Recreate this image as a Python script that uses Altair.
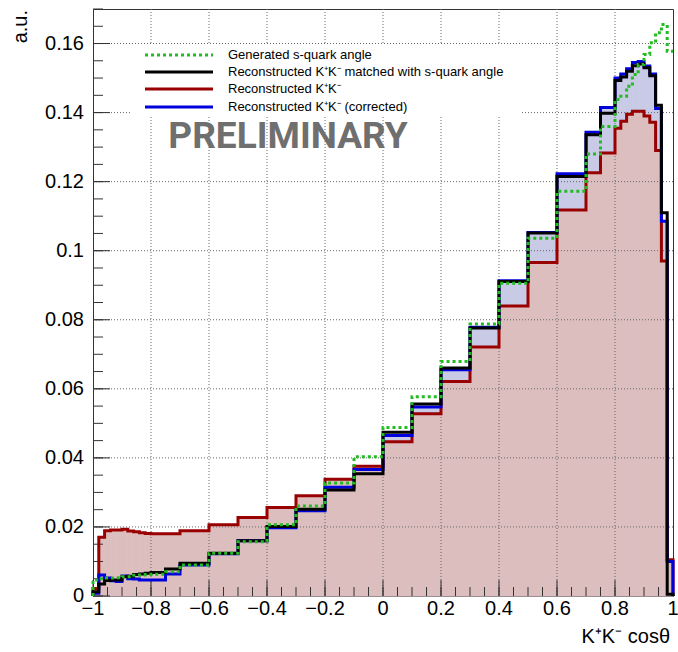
import altair as alt
import pandas as pd

# ---------------- data ----------------
edges = [-1.00, -0.98, -0.96, -0.94, -0.92, -0.90, -0.88, -0.86, -0.84, -0.82, -0.80,
         -0.75, -0.70, -0.60, -0.50, -0.40, -0.30, -0.20, -0.10, 0.00, 0.10, 0.20, 0.30,
         0.40, 0.50, 0.60, 0.70, 0.75, 0.80, 0.82, 0.84, 0.86, 0.88, 0.90, 0.92, 0.94,
         0.96, 0.98, 1.00]

generated = [0.0046, 0.0050, 0.0052, 0.0052, 0.0053, 0.0056, 0.0056, 0.0060, 0.0061, 0.0062,
             0.0063, 0.0070, 0.0090, 0.0124, 0.0157, 0.0206, 0.0261, 0.0327, 0.0403, 0.0488,
             0.0577, 0.0679, 0.0788, 0.0906, 0.1036, 0.1172, 0.1280, 0.1360, 0.1438, 0.1447,
             0.1476, 0.1510, 0.1539, 0.1568, 0.1602, 0.1631, 0.1655, 0.1578]

matched = [0.0012, 0.0035, 0.0045, 0.0046, 0.0046, 0.0056, 0.0057, 0.0062, 0.0064, 0.0066,
           0.0068, 0.0078, 0.0095, 0.0124, 0.0160, 0.0201, 0.0251, 0.0307, 0.0354, 0.0474,
           0.0556, 0.0660, 0.0776, 0.0911, 0.1051, 0.1215, 0.1336, 0.1398, 0.1493, 0.1503,
           0.1520, 0.1536, 0.1541, 0.1530, 0.1507, 0.1421, 0.1110, 0.0005]

reco = [0.0022, 0.0170, 0.0189, 0.0191, 0.0191, 0.0193, 0.0188, 0.0186, 0.0183, 0.0181,
        0.0180, 0.0180, 0.0189, 0.0206, 0.0227, 0.0256, 0.0290, 0.0338, 0.0376, 0.0447,
        0.0528, 0.0621, 0.0721, 0.0840, 0.0966, 0.1118, 0.1226, 0.1283, 0.1355, 0.1375,
        0.1395, 0.1404, 0.1404, 0.1390, 0.1372, 0.1290, 0.0970, 0.0105]

corrected = [0.0008, 0.0061, 0.0052, 0.0044, 0.0042, 0.0058, 0.0050, 0.0049, 0.0046, 0.0046,
             0.0046, 0.0064, 0.0090, 0.0122, 0.0160, 0.0198, 0.0247, 0.0315, 0.0366, 0.0465,
             0.0547, 0.0655, 0.0778, 0.0913, 0.1053, 0.1223, 0.1343, 0.1415, 0.1500, 0.1512,
             0.1527, 0.1545, 0.1548, 0.1535, 0.1512, 0.1412, 0.1085, 0.0100]

x_major = [-1.0, -0.8, -0.6, -0.4, -0.2, 0.0, 0.2, 0.4, 0.6, 0.8, 1.0]
x_labels = ["\u22121", "\u22120.8", "\u22120.6", "\u22120.4", "\u22120.2", "0",
            "0.2", "0.4", "0.6", "0.8", "1"]
y_major = [0.0, 0.02, 0.04, 0.06, 0.08, 0.10, 0.12, 0.14, 0.16]
y_labels = ["0", "0.02", "0.04", "0.06", "0.08", "0.1", "0.12", "0.14", "0.16"]
x_minor = [round(-1 + 0.05 * i, 2) for i in range(41)]
y_minor = [round(0.005 * i, 3) for i in range(35)]

legend_labels = ["Generated s-quark angle",
                 "Reconstructed K\u207aK\u207b matched with s-quark angle",
                 "Reconstructed K\u207aK\u207b",
                 "Reconstructed K\u207aK\u207b (corrected)"]
legend_colors = ["#22bb22", "#000000", "#990000", "#0000dd"]
legend_dash = [[3, 3], [1, 0], [1, 0], [1, 0]]

# ---------------- helpers ----------------
W, H = 580, 587
xs = alt.Scale(domain=[-1, 1], nice=False, zero=False)
ys = alt.Scale(domain=[0, 0.17], nice=False, zero=True)
FONT = "Liberation Sans"


def step_df(vals, close_right=True):
    rows = [dict(x=edges[0], y=0.0, o=0)]
    k = 1
    for i, v in enumerate(vals):
        rows.append(dict(x=edges[i], y=v, o=k)); k += 1
        rows.append(dict(x=edges[i + 1], y=v, o=k)); k += 1
    if close_right:
        rows.append(dict(x=edges[-1], y=0.0, o=k))
    return pd.DataFrame(rows)


def rect_df(vals):
    return pd.DataFrame(dict(lo=edges[:-1], hi=edges[1:], v=vals))


def fill_layer(vals, color):
    return alt.Chart(rect_df(vals)).mark_rect(color=color, stroke=color, strokeWidth=0.8).encode(
        x=alt.X("lo:Q", scale=xs, axis=None),
        x2="hi:Q",
        y=alt.Y("v:Q", scale=ys, axis=None),
        y2=alt.datum(0),
    )


def line_layer(vals, color, dash=None, close_right=True):
    kw = dict(color=color, strokeWidth=3, strokeCap="butt", strokeJoin="miter")
    if dash is not None:
        kw["strokeDash"] = dash
    return alt.Chart(step_df(vals, close_right)).mark_line(**kw).encode(
        x=alt.X("x:Q", scale=xs, axis=None),
        y=alt.Y("y:Q", scale=ys, axis=None),
        order="o:Q",
    )


# ---------------- layers ----------------
blue_fill = fill_layer(corrected, "#c8cae6")
red_fill = fill_layer(reco, "#dcbebe")

grid_x = alt.Chart(pd.DataFrame(dict(v=x_major[1:-1]))).mark_rule(
    color="#666", strokeDash=[1, 2], strokeWidth=1).encode(
    x=alt.X("v:Q", scale=xs, axis=None), y=alt.value(0), y2=alt.value(H))
grid_y = alt.Chart(pd.DataFrame(dict(v=y_major[1:]))).mark_rule(
    color="#666", strokeDash=[1, 2], strokeWidth=1).encode(
    y=alt.Y("v:Q", scale=ys, axis=None), x=alt.value(0), x2=alt.value(W))

tick_col = "#333"
xt_major = alt.Chart(pd.DataFrame(dict(v=x_major))).mark_rule(color=tick_col).encode(
    x=alt.X("v:Q", scale=xs, axis=None), y=alt.value(H), y2=alt.value(H - 16))
xt_minor = alt.Chart(pd.DataFrame(dict(v=x_minor))).mark_rule(color=tick_col).encode(
    x=alt.X("v:Q", scale=xs, axis=None), y=alt.value(H), y2=alt.value(H - 9))
yt_major = alt.Chart(pd.DataFrame(dict(v=y_major))).mark_rule(color=tick_col).encode(
    y=alt.Y("v:Q", scale=ys, axis=None), x=alt.value(0), x2=alt.value(17))
yt_minor = alt.Chart(pd.DataFrame(dict(v=y_minor))).mark_rule(color=tick_col).encode(
    y=alt.Y("v:Q", scale=ys, axis=None), x=alt.value(0), x2=alt.value(10))

xlab = alt.Chart(pd.DataFrame(dict(v=x_major, t=x_labels))).mark_text(
    align="center", baseline="top", fontSize=20, font=FONT, color="#000").encode(
    x=alt.X("v:Q", scale=xs, axis=None), y=alt.value(H + 3), text="t:N")
ylab = alt.Chart(pd.DataFrame(dict(v=y_major, t=y_labels))).mark_text(
    align="right", baseline="middle", fontSize=20, font=FONT, color="#000").encode(
    y=alt.Y("v:Q", scale=ys, axis=None), x=alt.value(-9), text="t:N")

legend_box = alt.Chart(pd.DataFrame(dict(a=[0]))).mark_rect(color="white").encode(
    x=alt.value(37), x2=alt.value(428), y=alt.value(36), y2=alt.value(106))

lines = [
    line_layer(reco, "#990000"),
    line_layer(corrected, "#0000dd"),
    line_layer(matched, "#000000"),
    line_layer(generated, "#22bb22", dash=[3, 3], close_right=False),
]

leg_rows = [46, 63, 80, 98]
legend_layers = []
for lab, col, dsh, yy in zip(legend_labels, legend_colors, legend_dash, leg_rows):
    legend_layers.append(
        alt.Chart(pd.DataFrame(dict(a=[0]))).mark_rule(
            color=col, strokeWidth=3, strokeDash=dsh, strokeCap="butt").encode(
            x=alt.value(52), x2=alt.value(120), y=alt.value(yy)))
    legend_layers.append(
        alt.Chart(pd.DataFrame(dict(t=[lab]))).mark_text(
            align="left", baseline="middle", fontSize=13, font=FONT, color="#000").encode(
            text="t:N", x=alt.value(135), y=alt.value(yy)))

prelim = alt.Chart(pd.DataFrame(dict(t=["PRELIMINARY"]))).mark_text(
    align="center", baseline="middle", fontSize=37, font="Roboto", fontWeight="bold",
    color="#6f6f6f").encode(text="t:N", x=alt.value(195), y=alt.value(128))

ytitle = alt.Chart(pd.DataFrame(dict(t=["a.u."]))).mark_text(
    align="right", baseline="alphabetic", fontSize=20, font=FONT, angle=270,
    color="#000").encode(text="t:N", x=alt.value(-66), y=alt.value(1))

xtitle = alt.Chart(pd.DataFrame(dict(t=["K\u207aK\u207b cos\u03b8"]))).mark_text(
    align="right", baseline="alphabetic", fontSize=20, font=FONT,
    color="#000").encode(text="t:N", x=alt.value(577), y=alt.value(634))

chart = alt.layer(
    blue_fill, red_fill, grid_x, grid_y, legend_box,
    xt_minor, xt_major, yt_minor, yt_major, xlab, ylab,
    *lines, *legend_layers, prelim, ytitle, xtitle,
).properties(
    width=W, height=H,
    autosize=alt.AutoSizeParams(type="none"),
    padding={"left": 93, "top": 9, "right": 5, "bottom": 56},
    background="white",
).configure_view(stroke="#333", strokeWidth=1)

chart.save("out.html", embed_options={"renderer": "svg", "actions": False})
